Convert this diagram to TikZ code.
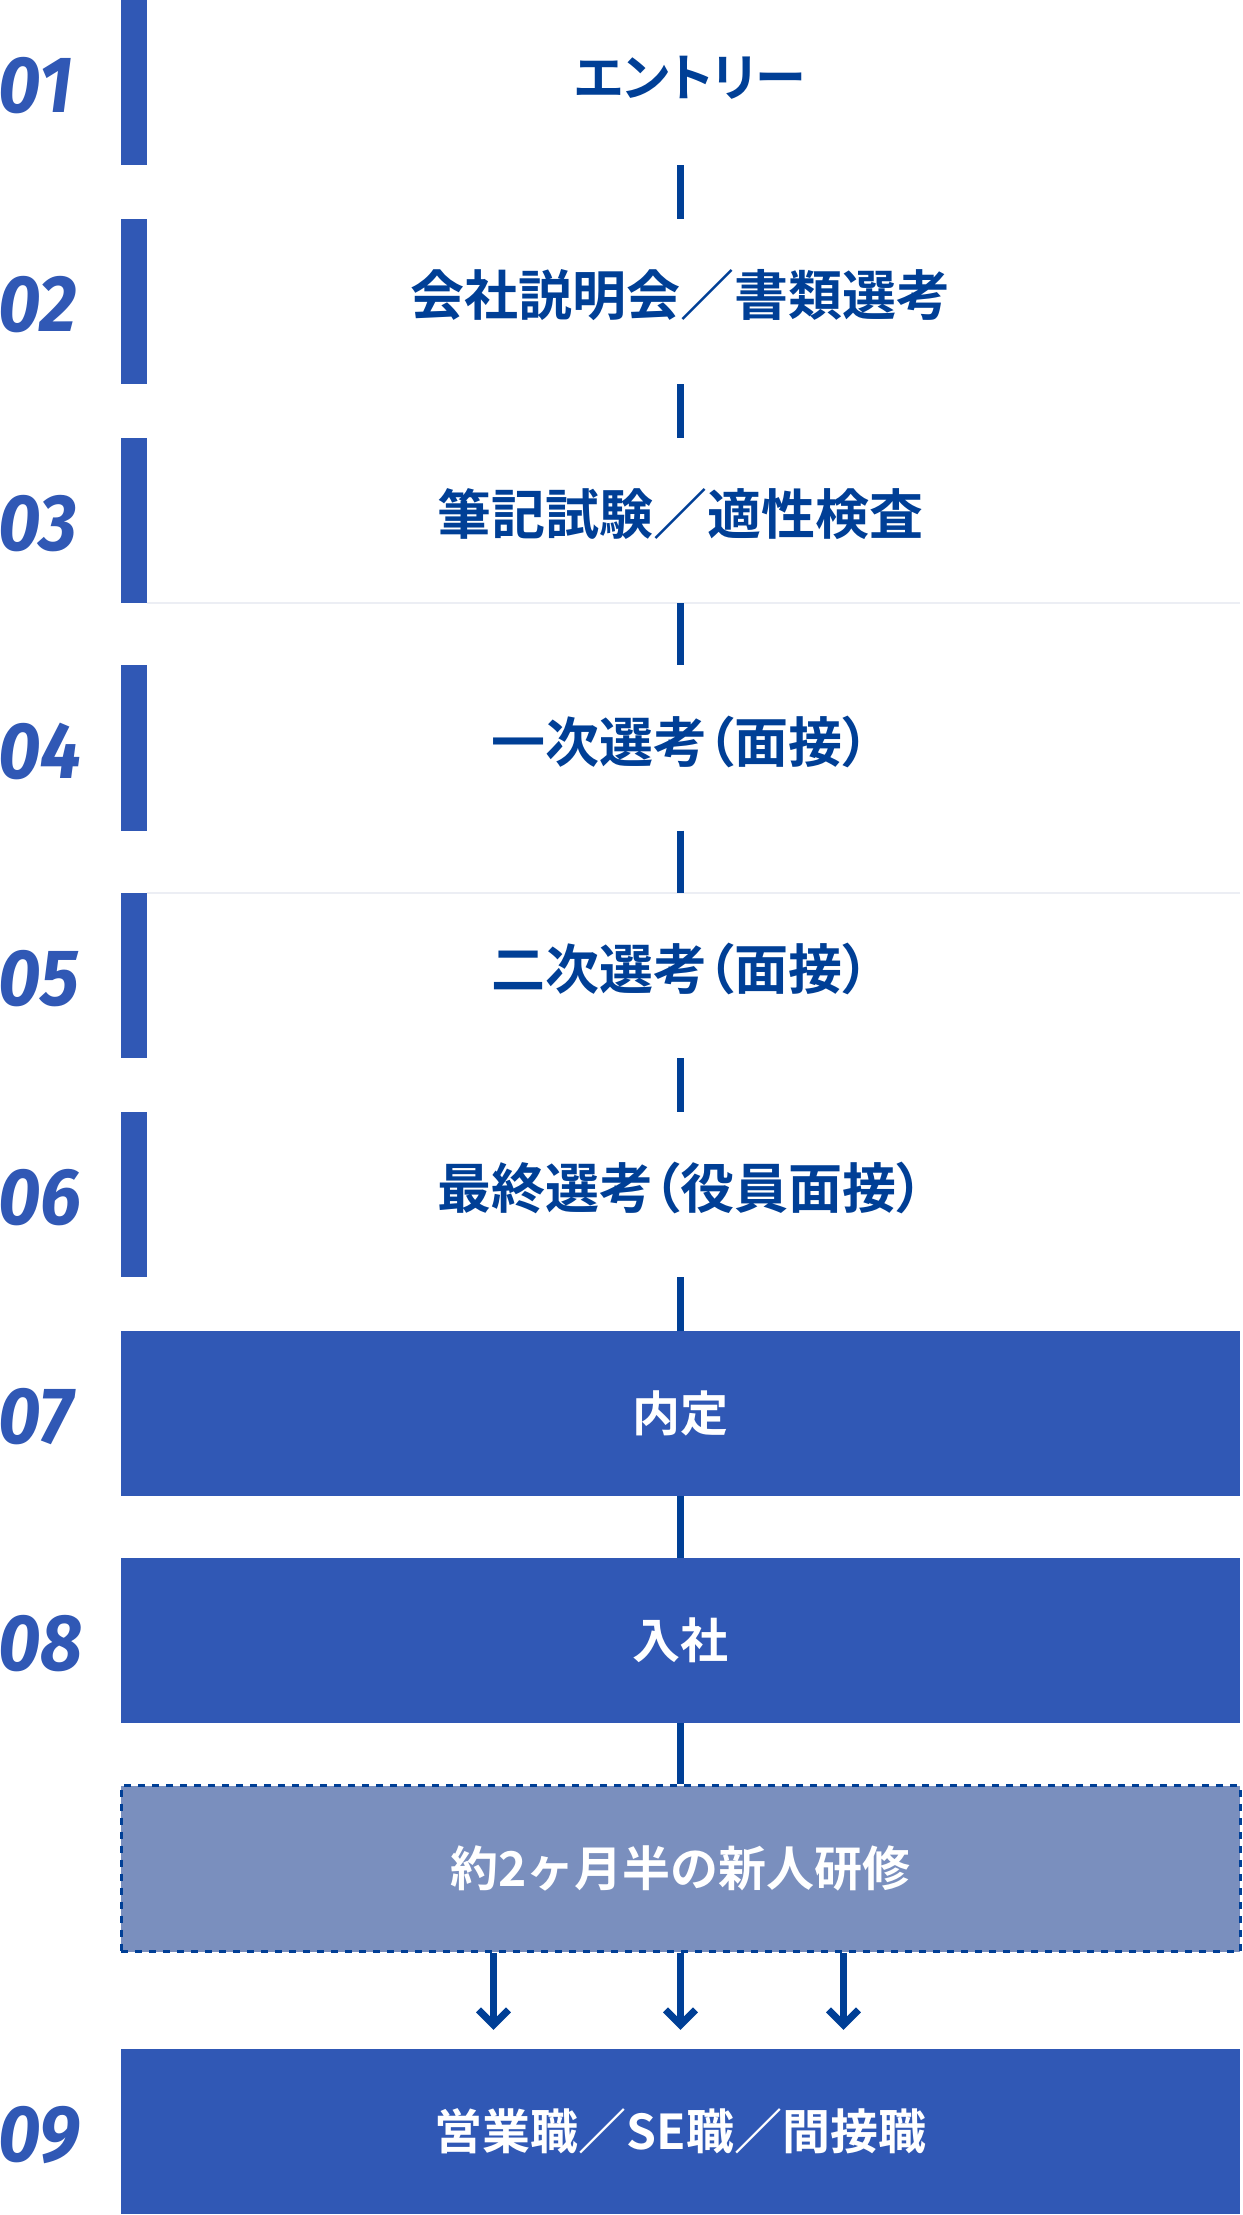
\documentclass[tikz,border=0pt]{standalone}
\usepackage{fontspec}
\usetikzlibrary{arrows.meta}
\newfontfamily\jpfont{Noto Sans CJK JP Bold}[CharacterWidth=AlternateProportional]
\newfontfamily\jpboxfont{Noto Sans CJK JP Bold}
\newfontfamily\numfont{Fira Sans}[FakeStretch=0.92]
\definecolor{barblue}{RGB}{48,88,181}
\definecolor{linkblue}{RGB}{0,63,150}
\definecolor{trainblue}{RGB}{122,143,190}
\definecolor{faintgray}{RGB}{236,238,244}

\begin{document}
\begin{tikzpicture}[x=1pt,y=-1pt,
    stepbox/.style={minimum width=1119pt,minimum height=165pt,inner sep=0pt,
      font=\jpfont\fontsize{54}{60}\selectfont,text=linkblue,
      text height=40pt,text depth=12pt},
    bluebox/.style={stepbox,fill=barblue,text=white,
      font=\jpboxfont\fontsize{48}{54}\selectfont,text height=42pt,text depth=6pt},
    trainbox/.style={bluebox,fill=trainblue,draw=linkblue,line width=3pt,
      dash pattern=on 7pt off 7pt,minimum height=166pt},
    numlabel/.style={anchor=base west,inner sep=0pt,text=barblue,
      font=\numfont\bfseries\itshape\fontsize{80}{80}\selectfont},
    link/.style={draw=linkblue,line width=7pt},
    arrowlink/.style={link,-{Straight Barb[length=15pt,width=30pt]}}]
  \fill[white] (0,0) rectangle (1242,2215);
  \useasboundingbox (0,0) rectangle (1242,2215);

  % steps
  \node[stepbox,font=\jpfont\fontsize{51}{60}\selectfont] (s1) at (680.5,82.5) {\hspace*{19pt}エントリー};
  \node[stepbox] (s2) at (680.5,301.5) {会社説明会／書類選考};
  \node[stepbox] (s3) at (680.5,520.5) {筆記試験／適性検査};
  \node[stepbox] (s4) at (680.5,748) {一次選考（面接）};
  \node[stepbox] (s5) at (680.5,975.5) {二次選考（面接）};
  \node[stepbox] (s6) at (680.5,1194.5) {最終選考（役員面接）};
  \node[bluebox] (b7) at (680.5,1413.5) {内定};
  \node[bluebox] (b8) at (680.5,1640.5) {入社};
  \node[trainbox] (tr) at (680.5,1868.5) {約2ヶ月半の新人研修};
  \node[bluebox] (b9) at (680.5,2131.5) {営業職／SE職／間接職};

  \draw[faintgray,line width=1.5pt] ([xshift=26pt]s3.south west) -- (s3.south east);
  \draw[faintgray,line width=1.5pt] ([xshift=26pt]s5.north west) -- (s5.north east);

  \foreach \s in {s1,s2,s3,s4,s5,s6}
    \fill[barblue] (\s.north west) rectangle ([xshift=26pt]\s.south west);

  % numbers
  \node[numlabel] (n1) at (-2,112.5) {01};
  \node[numlabel] (n2) at (-2,331.5) {02};
  \node[numlabel] (n3) at (-2,550.5) {03};
  \node[numlabel] (n4) at (-2,778) {04};
  \node[numlabel] (n5) at (-2,1005.5) {05};
  \node[numlabel] (n6) at (-2,1224.5) {06};
  \node[numlabel] (n7) at (-2,1443.5) {07};
  \node[numlabel] (n8) at (-2,1670.5) {08};
  \node[numlabel] (n9) at (-2,2161.5) {09};

  % connectors
  \draw[link] (s1) -- (s2);
  \draw[link] (s2) -- (s3);
  \draw[link] (s3) -- (s4);
  \draw[link] (s4) -- (s5);
  \draw[link] (s5) -- (s6);
  \draw[link] (s6) -- (b7);
  \draw[link] (b7) -- (b8);
  \draw[link] (b8) -- (tr);
  \draw[arrowlink] ([xshift=-187pt]tr.south) -- ([xshift=-187pt,yshift=19pt]b9.north);
  \draw[arrowlink] (tr.south) -- ([yshift=19pt]b9.north);
  \draw[arrowlink] ([xshift=163pt]tr.south) -- ([xshift=163pt,yshift=19pt]b9.north);
\end{tikzpicture}
\end{document}
